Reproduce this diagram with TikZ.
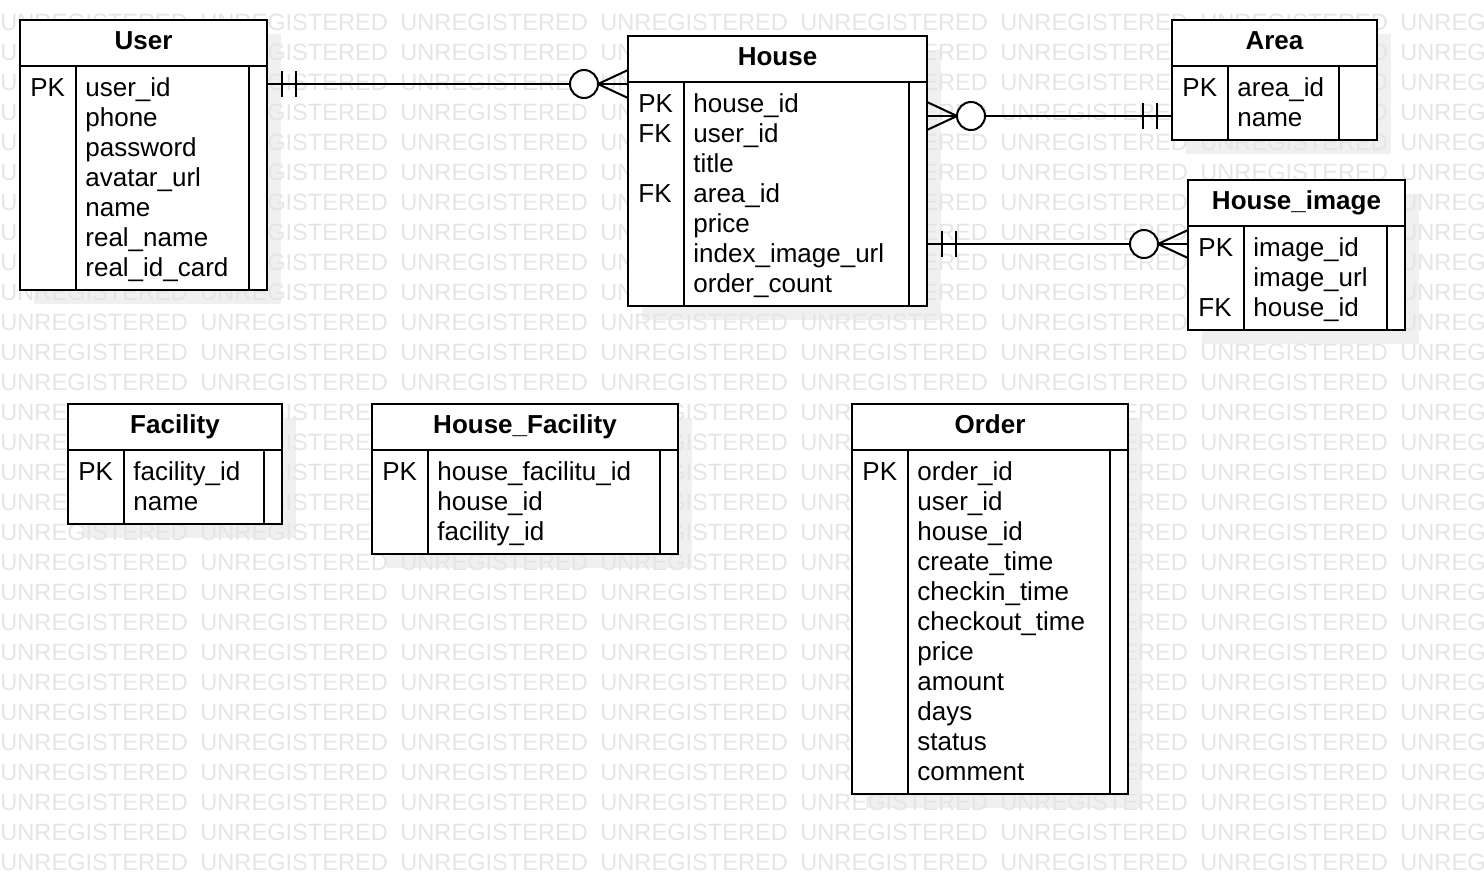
\documentclass[tikz,border=0pt]{standalone}
\usepackage{fontspec}
\setmainfont{Liberation Sans}
\usetikzlibrary{fit}
\tikzset{
  tbl/.style={draw,line width=1pt,fill=white,inner sep=0pt,outer sep=0pt},
  shd/.style={fill=black!6},
  wm/.style={text=black!10,anchor=west,inner sep=0pt,font=\fontsize{11.8}{14}\selectfont},
  fld/.style={anchor=base west,inner sep=0pt,font=\fontsize{13}{15}\selectfont},
  hd/.style={anchor=base,inner sep=0pt,font=\bfseries\fontsize{13}{15}\selectfont},
  ln/.style={line width=1pt},
}
\begin{document}
\begin{tikzpicture}[x=0.5pt,y=-0.5pt]
\useasboundingbox (0,0) rectangle (1484,874);

% shadows
\fill[shd] (34,34) rectangle (281,304);
\fill[shd] (642,50) rectangle (941,320);
\fill[shd] (1186,34) rectangle (1391,154);
\fill[shd] (1202,194) rectangle (1419,344);
\fill[shd] (82,418) rectangle (296,538);
\fill[shd] (386,418) rectangle (692,568);
\fill[shd] (866,418) rectangle (1142,808);

% watermark
\foreach \r in {0,...,28}
  \foreach \c in {0,...,7}
    \node[wm] (wm-\r-\c) at (200*\c,22+30*\r) {UNREGISTERED};

% User
\node[tbl,fit={(20,20) (267,290)}] (user) {};
\draw[ln] (20,66) -- (267,66);
\draw[ln] (76,66) -- (76,290);
\draw[ln] (249,66) -- (249,290);
\node[hd] (user-hd) at (143.5,49.5) {User};
\node[fld] (user-pk) at (30,96) {PK};
\foreach \t [count=\i from 0] in {user\_id,phone,password,avatar\_url,name,real\_name,real\_id\_card}
  \node[fld] (user-\i) at (85,96+30*\i) {\t};

% House
\node[tbl,fit={(628,36) (927,306)}] (house) {};
\draw[ln] (628,82) -- (927,82);
\draw[ln] (684,82) -- (684,306);
\draw[ln] (909,82) -- (909,306);
\node[hd] (house-hd) at (777.5,65.5) {House};
\node[fld] (house-pk) at (638,112) {PK};
\node[fld] (house-fk1) at (638,142) {FK};
\node[fld] (house-fk2) at (638,202) {FK};
\foreach \t [count=\i from 0] in {house\_id,user\_id,title,area\_id,price,index\_image\_url,order\_count}
  \node[fld] (house-\i) at (693,112+30*\i) {\t};

% Area
\node[tbl,fit={(1172,20) (1377,140)}] (area) {};
\draw[ln] (1172,66) -- (1377,66);
\draw[ln] (1228,66) -- (1228,140);
\draw[ln] (1339,66) -- (1339,140);
\node[hd] (area-hd) at (1274.5,49.5) {Area};
\node[fld] (area-pk) at (1182,96) {PK};
\foreach \t [count=\i from 0] in {area\_id,name}
  \node[fld] (area-\i) at (1237,96+30*\i) {\t};

% House_image
\node[tbl,fit={(1188,180) (1405,330)}] (himg) {};
\draw[ln] (1188,226) -- (1405,226);
\draw[ln] (1244,226) -- (1244,330);
\draw[ln] (1387,226) -- (1387,330);
\node[hd] (himg-hd) at (1296.5,209.5) {House\_image};
\node[fld] (himg-pk) at (1198,256) {PK};
\node[fld] (himg-fk) at (1198,316) {FK};
\foreach \t [count=\i from 0] in {image\_id,image\_url,house\_id}
  \node[fld] (himg-\i) at (1253,256+30*\i) {\t};

% Facility
\node[tbl,fit={(68,404) (282,524)}] (fac) {};
\draw[ln] (68,450) -- (282,450);
\draw[ln] (124,450) -- (124,524);
\draw[ln] (264,450) -- (264,524);
\node[hd] (fac-hd) at (175,433.5) {Facility};
\node[fld] (fac-pk) at (78,480) {PK};
\foreach \t [count=\i from 0] in {facility\_id,name}
  \node[fld] (fac-\i) at (133,480+30*\i) {\t};

% House_Facility
\node[tbl,fit={(372,404) (678,554)}] (hfac) {};
\draw[ln] (372,450) -- (678,450);
\draw[ln] (428,450) -- (428,554);
\draw[ln] (660,450) -- (660,554);
\node[hd] (hfac-hd) at (525,433.5) {House\_Facility};
\node[fld] (hfac-pk) at (382,480) {PK};
\foreach \t [count=\i from 0] in {house\_facilitu\_id,house\_id,facility\_id}
  \node[fld] (hfac-\i) at (437,480+30*\i) {\t};

% Order
\node[tbl,fit={(852,404) (1128,794)}] (order) {};
\draw[ln] (852,450) -- (1128,450);
\draw[ln] (908,450) -- (908,794);
\draw[ln] (1110,450) -- (1110,794);
\node[hd] (order-hd) at (990,433.5) {Order};
\node[fld] (order-pk) at (862,480) {PK};
\foreach \t [count=\i from 0] in {order\_id,user\_id,house\_id,create\_time,checkin\_time,checkout\_time,price,amount,days,status,comment}
  \node[fld] (order-\i) at (917,480+30*\i) {\t};

% User -- House
\draw[ln] (user.east |- 0,84) coordinate (r1a) -- (house.west |- 0,84) coordinate (r1b);
\draw[ln] (r1a) ++(15,-13) -- ++(0,26);
\draw[ln] (r1a) ++(29,-13) -- ++(0,26);
\draw[ln] (r1b) ++(0,-14) -- ++(-30,14) -- ++(30,14);
\draw[ln,fill=white] (r1b) ++(-44,0) circle[radius=7pt];

% House -- Area
\draw[ln] (house.east |- 0,116) coordinate (r2a) -- (area.west |- 0,116) coordinate (r2b);
\draw[ln] (r2a) ++(0,-14) -- ++(30,14) -- ++(-30,14);
\draw[ln,fill=white] (r2a) ++(44,0) circle[radius=7pt];
\draw[ln] (r2b) ++(-15,-13) -- ++(0,26);
\draw[ln] (r2b) ++(-29,-13) -- ++(0,26);

% House -- House_image
\draw[ln] (house.east |- 0,244) coordinate (r3a) -- (himg.west |- 0,244) coordinate (r3b);
\draw[ln] (r3a) ++(15,-13) -- ++(0,26);
\draw[ln] (r3a) ++(29,-13) -- ++(0,26);
\draw[ln] (r3b) ++(0,-14) -- ++(-30,14) -- ++(30,14);
\draw[ln,fill=white] (r3b) ++(-44,0) circle[radius=7pt];

\end{tikzpicture}
\end{document}
